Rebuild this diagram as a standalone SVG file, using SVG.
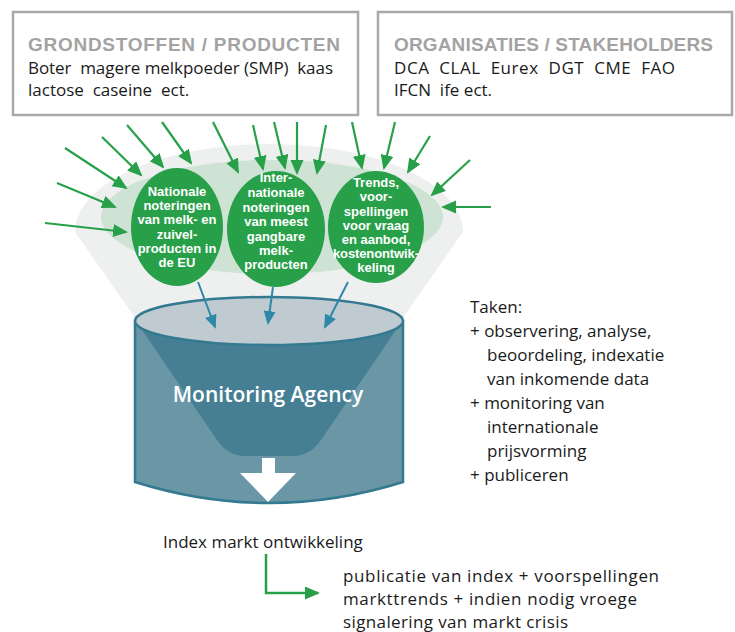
<svg xmlns="http://www.w3.org/2000/svg" width="735" height="632" viewBox="0 0 735 632">
<style>
.box{fill:#fff;stroke:#a9a9a9;stroke-width:2.5}
.title{font-family:"Liberation Sans",sans-serif;font-weight:bold;font-size:19px;fill:#a3a3a3}
.txt{font-family:"Open Sans","Liberation Sans",sans-serif;font-size:17px;fill:#1a1a1a;white-space:pre}
.ell{fill:#28a049}
.et{font-family:"Liberation Sans",sans-serif;font-weight:bold;font-size:13px;fill:#fff;text-anchor:middle}
.ga{stroke:#28a049;stroke-width:2.2;fill:none;marker-end:url(#gh)}
.ba{stroke:#2f88a8;stroke-width:2;fill:none;marker-end:url(#bh)}
</style>
<defs>
<marker id="gh" markerUnits="userSpaceOnUse" markerWidth="16" markerHeight="14" refX="13" refY="6.5" orient="auto"><path d="M0,0 L15,6.5 L0,13 Z" fill="#28a049"/></marker>
<marker id="bh" markerUnits="userSpaceOnUse" markerWidth="15" markerHeight="13" refX="12" refY="6" orient="auto"><path d="M0,0 L14,6 L0,12 Z" fill="#2f88a8"/></marker>
</defs>

<g id="box-grondstoffen">
<rect class="box" x="13" y="12" width="345" height="103"/>
<text class="title" x="28" y="51" textLength="312">GRONDSTOFFEN / PRODUCTEN</text>
<text class="txt" x="28" y="74" textLength="305">Boter  magere melkpoeder (SMP)  kaas</text>
<text class="txt" x="28" y="96">lactose  caseine  ect.</text>
</g>

<g id="box-organisaties">
<rect class="box" x="378" y="12" width="354" height="103"/>
<text class="title" x="394" y="51" textLength="319">ORGANISATIES / STAKEHOLDERS</text>
<text class="txt" x="394" y="74" textLength="281">DCA  CLAL  Eurex  DGT  CME  FAO</text>
<text class="txt" x="394" y="96">IFCN  ife ect.</text>
</g>

<g id="funnel-background">
<path d="M75,232 A194,88 0 0 1 463,232 L400,322 L138,322 Z" fill="#eef0ef"/>
<ellipse cx="272" cy="217" rx="171" ry="57" fill="#cfe3d5"/>
</g>

<g id="cylinder">
<path d="M135,321 L135,482 Q269,524 403,482 L403,321 Z" fill="#6a96a6" stroke="#33798f" stroke-width="2.5"/>
<path d="M140,327 L217,440 Q228,456 245,456 L293,456 Q310,456 321,440 L398,327 Z" fill="#467f94"/>
<ellipse cx="269" cy="321" rx="134" ry="24" fill="#bfcbd1" stroke="#33798f" stroke-width="2.5"/>
<text x="268" y="402" text-anchor="middle" font-family="'Open Sans','Liberation Sans',sans-serif" font-weight="600" font-size="21" fill="#fff">Monitoring Agency</text>
<polygon points="262,458 275,458 275,473 296,473 268,502 240,473 262,473" fill="#fff"/>
</g>

<g id="node-nationale">
<ellipse class="ell" cx="177" cy="227" rx="46" ry="59"/>
<text class="et"><tspan x="177" y="196">Nationale</tspan><tspan x="177" y="210">noteringen</tspan><tspan x="177" y="224">van melk- en</tspan><tspan x="177" y="239">zuivel-</tspan><tspan x="177" y="253">producten in</tspan><tspan x="177" y="267">de EU</tspan></text>
</g>

<g id="node-internationale">
<ellipse class="ell" cx="276" cy="229" rx="49" ry="58"/>
<text class="et"><tspan x="276" y="182">Inter-</tspan><tspan x="276" y="197">nationale</tspan><tspan x="276" y="212">noteringen</tspan><tspan x="276" y="226">van meest</tspan><tspan x="276" y="241">gangbare</tspan><tspan x="276" y="255">melk-</tspan><tspan x="276" y="269">producten</tspan></text>
</g>

<g id="node-trends">
<ellipse class="ell" cx="376" cy="227" rx="48" ry="56"/>
<text class="et"><tspan x="376" y="187">Trends,</tspan><tspan x="376" y="201">voor-</tspan><tspan x="376" y="216">spellingen</tspan><tspan x="376" y="230">voor vraag</tspan><tspan x="376" y="244">en aanbod,</tspan><tspan x="376" y="258" textLength="86">kostenontwik-</tspan><tspan x="376" y="272">keling</tspan></text>
</g>

<g id="taken">
<text class="txt"><tspan x="470" y="313">Taken:</tspan><tspan x="470" y="337">+ observering, analyse,</tspan><tspan x="487" y="361">beoordeling, indexatie</tspan><tspan x="487" y="385">van inkomende data</tspan><tspan x="470" y="409">+ monitoring van</tspan><tspan x="487" y="433">internationale</tspan><tspan x="487" y="457">prijsvorming</tspan><tspan x="470" y="481">+ publiceren</tspan></text>
</g>

<g id="index">
<text class="txt" x="163" y="548">Index markt ontwikkeling</text>
</g>

<g id="publicatie">
<text class="txt"><tspan x="343" y="582" textLength="316">publicatie van index + voorspellingen</tspan><tspan x="343" y="605" textLength="294">markttrends + indien nodig vroege</tspan><tspan x="343" y="628" textLength="225">signalering van markt crisis</tspan></text>
</g>

<g id="connectors">
<line class="ga" x1="45" y1="223" x2="126" y2="232"/>
<line class="ga" x1="57" y1="183" x2="115" y2="207"/>
<line class="ga" x1="65" y1="148" x2="126" y2="188"/>
<line class="ga" x1="102" y1="137" x2="141" y2="175"/>
<line class="ga" x1="127" y1="125" x2="163" y2="167"/>
<line class="ga" x1="162" y1="122" x2="191" y2="163"/>
<line class="ga" x1="213" y1="122" x2="238" y2="172"/>
<line class="ga" x1="253" y1="125" x2="263" y2="169"/>
<line class="ga" x1="274" y1="122" x2="285" y2="168"/>
<line class="ga" x1="297" y1="122" x2="297" y2="173"/>
<line class="ga" x1="326" y1="125" x2="317" y2="173"/>
<line class="ga" x1="352" y1="122" x2="362" y2="168"/>
<line class="ga" x1="395" y1="122" x2="384" y2="168"/>
<line class="ga" x1="430" y1="136" x2="408" y2="172"/>
<line class="ga" x1="470" y1="160" x2="432" y2="195"/>
<line class="ga" x1="491" y1="207" x2="443" y2="207"/>
<line class="ba" x1="198" y1="282" x2="215" y2="327"/>
<line class="ba" x1="273" y1="287" x2="268" y2="323"/>
<line class="ba" x1="348" y1="282" x2="325" y2="327"/>
<path d="M266,554 L266,593 L318,593" fill="none" stroke="#28a049" stroke-width="2.5" marker-end="url(#gh)"/>
</g>
</svg>
